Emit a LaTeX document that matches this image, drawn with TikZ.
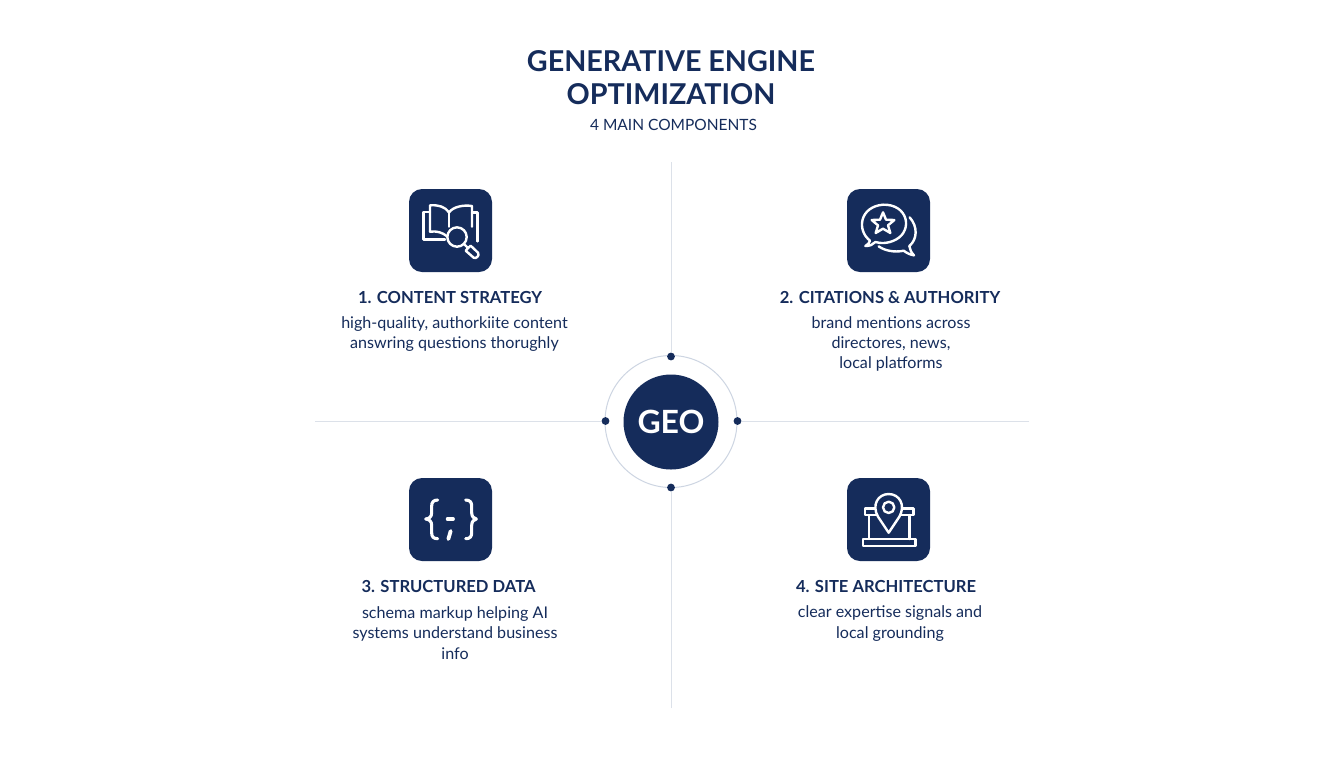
\documentclass[tikz,border=0pt]{standalone}
\usepackage{fontspec}
\setmainfont{Lato}
\usetikzlibrary{backgrounds}
\definecolor{navy}{HTML}{152C5B}
\definecolor{axisgrey}{HTML}{DCE1E9}
\definecolor{ringgrey}{HTML}{CDD5E2}
\tikzset{
 axisline/.style={draw=axisgrey,line width=0.5pt},
 iconbox/.style={fill=navy,rounded corners=6.5pt,minimum size=41.5pt,inner sep=0pt,draw=none},
 glyph/.style={draw=white,line width=1.2pt,line join=round,line cap=round},
 dotnode/.style={circle,fill=navy,inner sep=0pt,minimum size=3.9pt},
 heading/.style={text=navy,font=\fontsize{8.3}{10}\selectfont\bfseries,align=center},
 body/.style={text=navy,font=\fontsize{8.05}{10.1}\selectfont,align=center},
}
\begin{document}
\begin{tikzpicture}[x=0.5pt,y=-0.5pt]
\useasboundingbox (0,0) rectangle (1344,768);
% title
\node[text=navy,font=\fontsize{14.35}{16.6}\selectfont\bfseries,align=center] (title) at (671,78) {GENERATIVE ENGINE\\OPTIMIZATION};
\node[text=navy,font=\fontsize{7.75}{10}\selectfont] (sub) at (673.5,124.5) {4 MAIN COMPONENTS};
% axes
\coordinate (topend) at (671,162);
\coordinate (botend) at (671,708);
\coordinate (leftend) at (315,421);
\coordinate (rightend) at (1029,421);
\node[dotnode] (dt) at (671,356.5) {};
\node[dotnode] (db) at (671,487.5) {};
\node[dotnode] (dl) at (605.5,421) {};
\node[dotnode] (dr) at (737.5,421) {};
\begin{pgfonlayer}{background}
\fill[white] (0,0) rectangle (1344,768);
\draw[axisline] (topend) -- (dt);
\draw[axisline] (botend) -- (db);
\draw[axisline] (leftend) -- (dl);
\draw[axisline] (rightend) -- (dr);
\draw[ringgrey,line width=0.5pt] (671,421.5) circle[radius=66];
\end{pgfonlayer}
% centre
\node[circle,fill=navy,minimum size=47.5pt,inner sep=0pt,text=white,font=\fontsize{16}{18}\selectfont\bfseries] (geo) at (671,422) {GEO};
% icon boxes
\node[iconbox] (b1) at (450.5,230.5) {};
\node[iconbox] (b2) at (888.5,230.5) {};
\node[iconbox] (b3) at (450.5,519.5) {};
\node[iconbox] (b4) at (888.5,519.5) {};
% icon 1: book + magnifier (local units: zoom crop, 3 = 1px)
\begin{scope}[shift={(400,180)},x=0.1667pt,y=-0.1667pt,glyph]
 \draw (90,155) -- (90,76) .. controls (115,74) and (135,80) .. (147,97) .. controls (160,80) and (190,74) .. (216,78) -- (216,140);
 \draw (147,97) -- (147,140);
 \draw (90,155) .. controls (110,152) and (128,158) .. (140,168);
 \draw (90,96) -- (71,96) -- (71,179) -- (135,179);
 \draw (216,97) -- (232,97) -- (232,184);
 \draw (171,171) circle[radius=29];
 \draw (192,192) -- (204,204);
 \draw (204,204) -- (197,212) -- (221,233) .. controls (228,238) and (240,226) .. (234,218) -- (212,197) -- (204,204);
\end{scope}
% icon 2: speech bubbles + star
\begin{scope}[shift={(838,180)},x=0.1667pt,y=-0.1667pt,glyph]
 \draw (96,182) .. controls (55,150) and (65,80) .. (135,74) .. controls (210,72) and (225,150) .. (175,178) .. controls (150,192) and (125,190) .. (112,186) .. controls (105,194) and (95,198) .. (82,198) .. controls (90,193) and (95,188) .. (96,182);
 \draw (215,112) .. controls (240,140) and (238,178) .. (214,198) .. controls (215,208) and (220,218) .. (228,226) .. controls (215,224) and (205,218) .. (197,212) .. controls (170,218) and (140,212) .. (122,199);
 \draw (135,97) -- (144,119) -- (169,120) -- (150,136) -- (157,159) -- (135,146) -- (113,159) -- (120,136) -- (101,120) -- (126,119) -- cycle;
\end{scope}
% icon 3: braces
\begin{scope}[shift={(400,470)},x=0.1667pt,y=-0.1667pt,glyph,line width=1.55pt]
 \draw (113,90) .. controls (100,90) and (95,97) .. (95,108) -- (95,128) .. controls (95,140) and (88,146) .. (77,147) .. controls (88,148) and (95,154) .. (95,166) -- (95,188) .. controls (95,200) and (100,206) .. (113,206);
 \draw (197,90) .. controls (210,90) and (215,97) .. (215,108) -- (215,128) .. controls (215,140) and (222,146) .. (229,147) .. controls (222,148) and (215,154) .. (215,166) -- (215,188) .. controls (215,200) and (210,206) .. (197,206);
 \draw (142,147) -- (160,147);
 \draw[line width=1.9pt] (152,183) -- (145,207);
\end{scope}
% icon 4: pin on building
\begin{scope}[shift={(838,470)},x=0.1667pt,y=-0.1667pt,glyph]
 \draw (81,115) rectangle (226,135);
 \draw (93,135) -- (93,207);
 \draw (215,135) -- (215,207);
 \draw (75,207) rectangle (232,228);
 \draw[fill=navy] (152,188) -- (120,140) .. controls (100,105) and (120,72) .. (152,72) .. controls (184,72) and (204,105) .. (184,140) -- cycle;
 \draw (152,112) circle[radius=17];
\end{scope}
% labels
\node[heading] (h1) at (450,297) {1. CONTENT STRATEGY};
\node[body] (t1) at (454.5,334) {high-quality, authorkiite content\\answring questions thorughly};
\node[heading] (h2) at (890,297) {2. CITATIONS \& AUTHORITY};
\node[body] (t2) at (891,344) {brand mentions across\\directores, news,\\local platforms};
\node[heading] (h3) at (448.5,586.5) {3. STRUCTURED DATA};
\node[body] (t3) at (455,633) {schema markup helping AI\\systems understand business\\info};
\node[heading] (h4) at (886,586.5) {4. SITE ARCHITECTURE};
\node[body] (t4) at (890,623.5) {clear expertise signals and\\local grounding};
\end{tikzpicture}
\end{document}
